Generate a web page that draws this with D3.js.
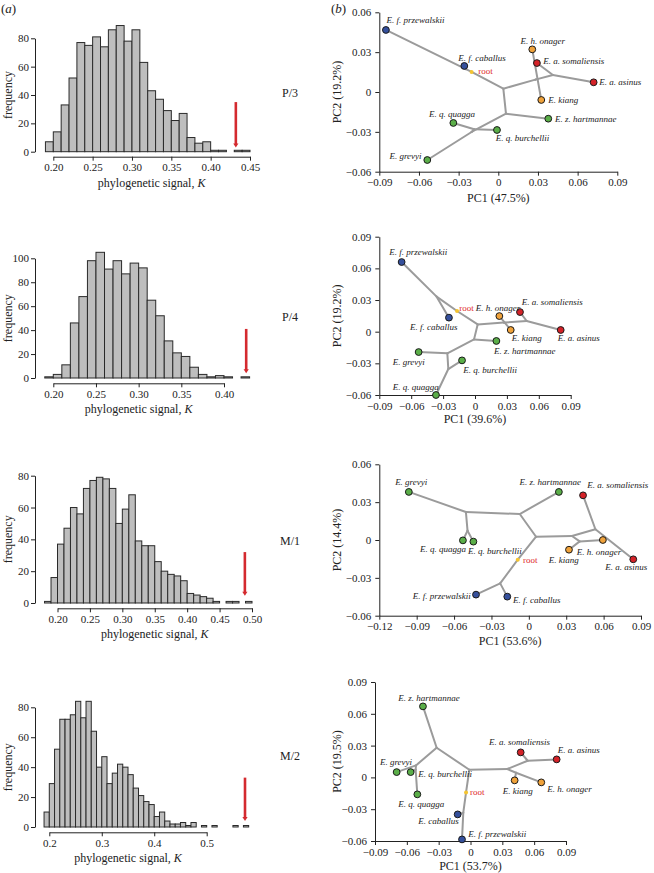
<!DOCTYPE html>
<html><head><meta charset="utf-8">
<script src="https://cdn.jsdelivr.net/npm/d3@7"></script>
<style>
html,body{margin:0;padding:0;background:#fff;}
svg text{font-family:"Liberation Serif","Times New Roman",serif;fill:#222;}
</style></head><body>
<svg id="chart" width="654" height="873"></svg>
<script>
// ================= DATA =================
// (a) null distributions of phylogenetic signal K (bin width 0.01)
const histLabels = ["P/3", "P/4", "M/1", "M/2"];
const binWidth = 0.01;
const binStarts = [0.19, 0.19, 0.18, 0.19];
const p3Counts = [7,14,33,52,77,75,81,74,86,89,78,86,63,43,37,29,22,27,10,6,7,1,1,0,1,1];
const p4Counts = [1,3,11,46,68,98,105,91,98,87,96,92,65,52,31,21,18,9,3,1,2,1,0,1];
const m1Counts = [1,16,37,47,60,56,72,77,79,78,72,50,59,68,39,36,36,26,20,18,17,14,6,5,4,3,1,0,1,1,0,1];
const m2Counts = [10,29,52,72,72,75,84,73,84,64,40,47,29,36,42,40,35,26,21,17,15,7,10,4,2,2,3,1,3,0,1,0,1,0,0,0,1,0,1];
const histCounts = [p3Counts, p4Counts, m1Counts, m2Counts];
const histXTicks = [
  [0.20,0.25,0.30,0.35,0.40,0.45],
  [0.20,0.25,0.30,0.35,0.40],
  [0.20,0.25,0.30,0.35,0.40,0.45,0.50],
  [0.2,0.3,0.4,0.5]
];
const histXTickDecimals = [2, 2, 2, 1];
const histYTicks = [
  [0,20,40,60,80],
  [0,20,40,60,80,100],
  [0,20,40,60,80],
  [0,20,40,60,80]
];
const observedK = [0.432, 0.426, 0.489, 0.573];
const arrowTopFreq = [35, 41, 32, 33];
const arrowBottomFreq = [3, 4, 4.5, 4];

// (b) phylomorphospaces
const nodeNames = ["E. f. przewalskii","E. f. caballus","E. h. onager","E. kiang","E. a. somaliensis","E. a. asinus",
  "E. z. hartmannae","E. grevyi","E. q. quagga","E. q. burchellii",
  "root","H","N1","Nz","Ngqb","Nqb","Nass","NOK","NAS"];
const tipCount = 10;
const tipGroups = ["horse","horse","hemione","hemione","ass","ass","zebra","zebra","zebra","zebra"];
const tipLabels = [
  ["E. f. przewalskii","E. f. caballus","E. h. onager","E. kiang","E. a. somaliensis","E. a. asinus","E. z. hartmannae","E. grevyi","E. q. quagga","E. q. burchellii"],
  ["E. f. przewalskii","E. f. caballus","E. h. onager","E. kiang","E. a. somaliensis","E. a. asinus","E. z. hartmannae","E. grevyi","E. q. quagga","E. q. burchellii"],
  ["E. f. przewalskii","E. f. caballus","E. h. onager","E. kiang","E. a. somaliensis","E. a. asinus","E. z. hartmannae","E. grevyi","E. q. quagga","E. q. burchellii"],
  ["E. f. przewalskii","E. caballus","E. h. onager","E. kiang","E. a. somaliensis","E. a. asinus","E. z. hartmannae","E. grevyi","E. q. quagga","E. q. burchellii"]
];
const edges = [
  ["root","H"],["H","E. f. przewalskii"],["H","E. f. caballus"],["root","N1"],
  ["N1","Nz"],["N1","Nass"],["Nz","E. z. hartmannae"],["Nz","Ngqb"],
  ["Ngqb","E. grevyi"],["Ngqb","Nqb"],["Nqb","E. q. quagga"],["Nqb","E. q. burchellii"],
  ["Nass","NAS"],["Nass","NOK"],["NAS","E. a. asinus"],["NAS","E. a. somaliensis"],
  ["NOK","E. h. onager"],["NOK","E. kiang"]
];
const p3PC1 = [-0.0850,-0.0257,0.0257,0.0325,0.0292,0.0721,0.0378,-0.0537,-0.0340,-0.0010,
               -0.0202,-0.0245,0.0038,0.0058,-0.0202,-0.0182,0.0280,0.0297,0.0413];
const p3PC2 = [0.0467,0.0196,0.0321,-0.0060,0.0218,0.0073,-0.0201,-0.0512,-0.0233,-0.0286,
               0.0151,0.0172,0.0025,-0.0163,-0.0301,-0.0281,0.0093,0.0097,0.0128];
const p4PC1 = [-0.0690,-0.0245,0.0229,0.0336,0.0423,0.0806,0.0201,-0.0530,-0.0367,-0.0122,
               -0.0169,-0.0361,0.0025,-0.0009,-0.0260,-0.0251,0.0272,0.0280,0.0486];
const p4PC2 = [0.0660,0.0133,0.0148,0.0016,0.0186,0.0016,-0.0088,-0.0193,-0.0600,-0.0272,
               0.0196,0.0332,0.0069,-0.0073,-0.0205,-0.0354,0.0086,0.0085,0.0101];
const m1PC1 = [-0.0424,-0.0173,0.0594,0.0322,0.0435,0.0838,0.0241,-0.0963,-0.0529,-0.0445,
               -0.0089,-0.0230,0.0058,-0.0073,-0.0505,-0.0492,0.0346,0.0408,0.0534];
const m1PC2 = [-0.0433,-0.0449,0.0000,-0.0077,0.0354,-0.0153,0.0381,0.0381,-0.0003,-0.0013,
               -0.0156,-0.0344,0.0026,0.0206,0.0222,0.0074,0.0032,-0.0011,0.0085];
const m2PC1 = [-0.0080,-0.0121,0.0667,0.0416,0.0473,0.0812,-0.0448,-0.0696,-0.0501,-0.0564,
               -0.0042,-0.0068,-0.0011,-0.0319,-0.0514,-0.0517,0.0347,0.0429,0.0539];
const m2PC2 = [-0.0585,-0.0349,-0.0047,-0.0028,0.0236,0.0170,0.0670,0.0050,-0.0160,0.0050,
               -0.0142,-0.0333,0.0072,0.0280,0.0113,0.0072,0.0079,0.0044,0.0157];
const pcaPC1 = [p3PC1, p4PC1, m1PC1, m2PC1];
const pcaPC2 = [p3PC2, p4PC2, m1PC2, m2PC2];
const pcaXTitles = ["PC1 (47.5%)","PC1 (39.6%)","PC1 (53.6%)","PC1 (53.7%)"];
const pcaYTitles = ["PC2 (19.2%)","PC2 (19.2%)","PC2 (14.4%)","PC2 (19.5%)"];
const pcaXTicks = [
  [-0.09,-0.06,-0.03,0,0.03,0.06,0.09],
  [-0.09,-0.06,-0.03,0,0.03,0.06,0.09],
  [-0.12,-0.09,-0.06,-0.03,0,0.03,0.06,0.09],
  [-0.09,-0.06,-0.03,0,0.03,0.06,0.09]
];
const pcaYTicks = [
  [-0.06,-0.03,0,0.03,0.06],
  [-0.06,-0.03,0,0.03,0.06,0.09],
  [-0.06,-0.03,0,0.03,0.06],
  [-0.06,-0.03,0,0.03,0.06,0.09]
];

// ================= LAYOUT / STYLE =================
const groupColor = {horse:"#35509c", ass:"#d42228", hemione:"#f0a23a", zebra:"#5aae48"};
const histBox = [
  {x0:53.3, x1:250,   y0:151.7, y1:38.3,  axisY:156.7, labelY:93},
  {x0:53.3, x1:224,   y0:378,   y1:258.3, axisY:383.3, labelY:317},
  {x0:57.5, x1:252,   y0:603,   y1:475.7, axisY:608.3, labelY:541},
  {x0:49.3, x1:206.7, y0:827,   y1:707.3, axisY:832.3, labelY:756}
];
const histYAxisX = 35;
const pcaBox = [
  {x0:379.3, x1:617.3, y0:171.7, y1:12.3,  titleDy:26},
  {x0:379.3, x1:570.7, y0:395,   y1:236.7, titleDy:24},
  {x0:379.3, x1:641,   y0:615.7, y1:464.3, titleDy:25},
  {x0:375,   x1:566,   y0:841,   y1:682,   titleDy:25}
];
// label placements: [dx, dy, anchor] for the 10 tips then root
const labelPlace = [
  [[0.7,-10.3,"start"],[-6,-8.3,"start"],[-11.7,-8.3,"start"],[7,0,"start"],[6.3,-1.7,"start"],[5.7,0,"start"],
   [6.7,0,"start"],[-5.7,-4.3,"end"],[-24.3,-9.3,"start"],[-1.3,8,"start"],[6.7,-1.3,"start"]],
  [[-12.3,-10.3,"start"],[-39,9,"start"],[-23.7,-8.3,"start"],[1,8.3,"start"],[1.7,-10.3,"start"],[-3,8,"start"],
   [-2.3,9.7,"start"],[-26,9.7,"start"],[-43.3,-8.3,"start"],[1.3,9.7,"start"],[2.3,-3.3,"start"]],
  [[-5.3,1.3,"end"],[5.7,3.3,"start"],[-26,11.7,"start"],[-20.3,10,"start"],[4.3,-10,"start"],[-28,8,"start"],
   [-39.3,-9.7,"start"],[-13.7,-9.7,"start"],[-43,9,"start"],[-5.3,9,"start"],[5.3,0,"start"]],
  [[6.3,-5.3,"start"],[-39.3,7,"start"],[6,6.3,"start"],[-12,11,"start"],[-31.7,-10.3,"start"],[1,-9,"start"],
   [-24.7,-8.7,"start"],[-16.7,-10,"start"],[-19,9.3,"start"],[7.7,1.7,"start"],[4,0,"start"]]
];

const svg = d3.select("#chart");
svg.append("rect").attr("width",654).attr("height",873).attr("fill","#fff");

function styleAxis(g){
  g.selectAll("path,line").attr("stroke","#222").attr("stroke-width",1);
  g.selectAll("text").attr("font-size","11px").attr("font-family","Liberation Serif, serif").attr("fill","#222");
}

// ---------- panel labels ----------
const pl = svg.append("text").attr("x",1).attr("y",13).attr("font-size","13px");
pl.append("tspan").text("(");
pl.append("tspan").attr("font-style","italic").text("a");
pl.append("tspan").text(")");
const pl2 = svg.append("text").attr("x",331).attr("y",13).attr("font-size","13px");
pl2.append("tspan").text("(");
pl2.append("tspan").attr("font-style","italic").text("b");
pl2.append("tspan").text(")");

// ---------- histograms ----------
histCounts.forEach((counts, i) => {
  const b = histBox[i];
  const xt = histXTicks[i], yt = histYTicks[i];
  const x = d3.scaleLinear().domain([xt[0], xt[xt.length-1]]).range([b.x0, b.x1]);
  const y = d3.scaleLinear().domain([0, yt[yt.length-1]]).range([b.y0, b.y1]);
  const g = svg.append("g");
  g.selectAll("rect.bar").data(counts).join("rect")
    .attr("x", (d,k) => x(binStarts[i] + k*binWidth))
    .attr("width", (d,k) => x(binStarts[i] + (k+1)*binWidth) - x(binStarts[i] + k*binWidth))
    .attr("y", d => y(d))
    .attr("height", d => b.y0 - y(d))
    .attr("fill", "#bebebe").attr("stroke", "#2a2a2a").attr("stroke-width", 1);
  const ya = g.append("g").attr("transform", `translate(${histYAxisX},0)`)
    .call(d3.axisLeft(y).tickValues(yt).tickSize(4).tickSizeOuter(0).tickPadding(2).tickFormat(d3.format("d")));
  styleAxis(ya);
  const xa = g.append("g").attr("transform", `translate(0,${b.axisY})`)
    .call(d3.axisBottom(x).tickValues(xt).tickSize(4).tickSizeOuter(0).tickPadding(3)
      .tickFormat(d => d.toFixed(histXTickDecimals[i])));
  styleAxis(xa);
  g.append("text").attr("transform", `translate(8,${(b.y0+b.y1)/2}) rotate(-90)`)
    .attr("text-anchor","middle").attr("dominant-baseline","central").attr("font-size","12px").text("frequency");
  const xt2 = g.append("text").attr("x",(b.x0+b.x1)/2).attr("y",b.y0+31)
    .attr("text-anchor","middle").attr("dominant-baseline","central").attr("font-size","12px");
  xt2.append("tspan").text("phylogenetic signal, ");
  xt2.append("tspan").attr("font-style","italic").text("K");
  g.append("text").attr("x",290).attr("y",b.labelY).attr("text-anchor","middle")
    .attr("dominant-baseline","central").attr("font-size","12px").text(histLabels[i]);
  const ax = x(observedK[i]), ayT = y(arrowTopFreq[i]), ayB = y(arrowBottomFreq[i]);
  g.append("line").attr("x1",ax).attr("x2",ax).attr("y1",ayT).attr("y2",ayB-3)
    .attr("stroke","#d42a2f").attr("stroke-width",2.6);
  g.append("path").attr("d",`M${ax-2.6},${ayB-4}L${ax+2.6},${ayB-4}L${ax},${ayB}Z`).attr("fill","#d42a2f");
});

// ---------- phylomorphospaces ----------
const fmtPC = v => Math.abs(v) < 1e-9 ? "0" : (v < 0 ? "\u2212" : "") + Math.abs(v).toFixed(2);
pcaPC1.forEach((pc1, i) => {
  const pc2 = pcaPC2[i], b = pcaBox[i];
  const xt = pcaXTicks[i], yt = pcaYTicks[i];
  const x = d3.scaleLinear().domain([xt[0], xt[xt.length-1]]).range([b.x0, b.x1]);
  const y = d3.scaleLinear().domain([yt[0], yt[yt.length-1]]).range([b.y0, b.y1]);
  const idx = {}; nodeNames.forEach((n,k) => idx[n] = k);
  const g = svg.append("g");
  const ya = g.append("g").attr("transform", `translate(${b.x0},0)`)
    .call(d3.axisLeft(y).tickValues(yt).tickSize(4).tickSizeOuter(0).tickPadding(4).tickFormat(fmtPC));
  styleAxis(ya);
  const xa = g.append("g").attr("transform", `translate(0,${b.y0})`)
    .call(d3.axisBottom(x).tickValues(xt).tickSize(4).tickSizeOuter(0).tickPadding(3).tickFormat(fmtPC));
  styleAxis(xa);
  g.append("text").attr("x",(b.x0+b.x1)/2).attr("y",b.y0+b.titleDy).attr("text-anchor","middle")
    .attr("dominant-baseline","central").attr("font-size","12px").text(pcaXTitles[i]);
  g.append("text").attr("transform",`translate(337,${(b.y0+b.y1)/2}) rotate(-90)`).attr("text-anchor","middle")
    .attr("dominant-baseline","central").attr("font-size","12px").text(pcaYTitles[i]);
  g.selectAll("line.edge").data(edges).join("line")
    .attr("x1", e => x(pc1[idx[e[0]]])).attr("y1", e => y(pc2[idx[e[0]]]))
    .attr("x2", e => x(pc1[idx[e[1]]])).attr("y2", e => y(pc2[idx[e[1]]]))
    .attr("stroke","#9b9b9b").attr("stroke-width",2).attr("stroke-linecap","round");
  const r = idx["root"];
  g.append("circle").attr("cx",x(pc1[r])).attr("cy",y(pc2[r])).attr("r",2).attr("fill","#f4c430");
  const rp = labelPlace[i][10];
  g.append("text").attr("x",x(pc1[r])+rp[0]).attr("y",y(pc2[r])+rp[1]).attr("text-anchor",rp[2])
    .attr("dominant-baseline","central").attr("font-size","9px").style("fill","#e02a2a").text("root");
  const tips = d3.range(tipCount);
  g.selectAll("circle.tip").data(tips).join("circle")
    .attr("cx", k => x(pc1[k])).attr("cy", k => y(pc2[k])).attr("r",3.4)
    .attr("fill", k => groupColor[tipGroups[k]]).attr("stroke","#1a1a1a").attr("stroke-width",1);
  g.selectAll("text.tip").data(tips).join("text")
    .attr("x", k => x(pc1[k]) + labelPlace[i][k][0])
    .attr("y", k => y(pc2[k]) + labelPlace[i][k][1])
    .attr("text-anchor", k => labelPlace[i][k][2])
    .attr("dominant-baseline","central").attr("font-size","9px").attr("font-style","italic")
    .text(k => tipLabels[i][k]);
});
</script>
</body></html>
